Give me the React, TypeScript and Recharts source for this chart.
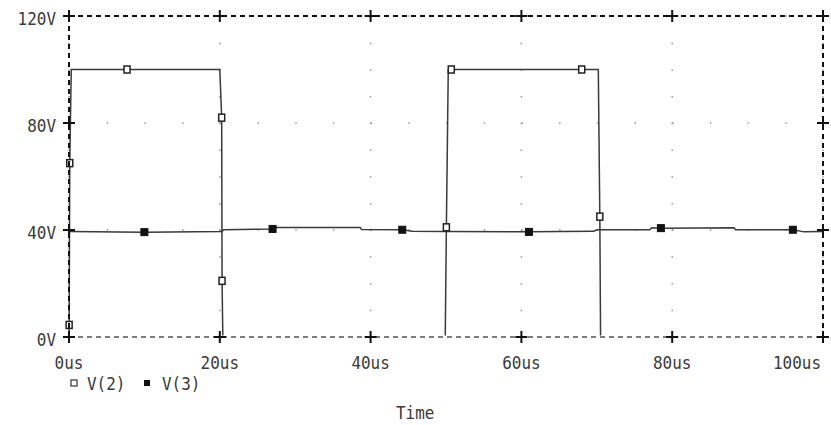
import React from 'react';
import {
  LineChart,
  Line,
  XAxis,
  YAxis,
  CartesianGrid,
  ReferenceLine,
  ReferenceDot,
} from 'recharts';

const timeTicks = [0, 20, 40, 60, 80, 100];
const voltTicks = [0, 40, 80, 120];

// V(2): pulse source
const v2Time = [0, 0.02, 0.1, 0.3, 7.7, 20.0, 20.25, 20.3, 20.4, 49.9, 50.05, 50.3, 50.7, 68.0, 70.2, 70.4, 70.5, 100];
const v2Volt = [0, 4.5, 65, 100, 100, 100, 82, 21, 0, 0, 41, 100, 100, 100, 100, 45, 0, 0];
const v2Marked = [1, 2, 4, 6, 7, 10, 12, 13, 15];

// V(3): node sitting around 40V
const v3Time = [0, 10, 20.3, 20.5, 27, 27.5, 38.6, 38.8, 44.2, 45.5, 50, 61, 69.6, 70, 77, 77.3, 78.5, 88.2, 88.4, 96, 97.5, 100];
const v3Volt = [39.4, 39.2, 39.4, 40.1, 40.4, 40.9, 40.9, 40.2, 40.1, 39.5, 39.4, 39.3, 39.5, 40.1, 40.1, 40.8, 40.7, 40.8, 40.1, 40.1, 39.3, 39.4];
const v3Marked = [1, 4, 8, 11, 16, 19];

const toRows = (ts: number[], vs: number[], marks: number[]) =>
  ts.map((t, i) => ({ t, v: vs[i], mark: marks.includes(i) }));

const v2Data = toRows(v2Time, v2Volt, v2Marked);
const v3Data = toRows(v3Time, v3Volt, v3Marked);

const FONT = 'DejaVu Sans Mono';
const CHAR_W = 9.6;

const Txt = ({ x, y, anchor = 'start', children }: any) => {
  const s = String(children);
  return (
    <text
      x={x}
      y={y}
      textAnchor={anchor}
      dominantBaseline="central"
      fontFamily={FONT}
      fontSize={18}
      fill="#3a3a3a"
      textLength={s.length * CHAR_W}
      lengthAdjust="spacingAndGlyphs"
    >
      {s}
    </text>
  );
};

// last label sits left of its tick so it stays inside the frame
const XTick = (props: any) => {
  const v = props.payload.value;
  const last = v === timeTicks[timeTicks.length - 1];
  return (
    <Txt x={last ? props.x + 2 : props.x} y={props.y + 23} anchor={last ? 'end' : 'middle'}>{`${v}us`}</Txt>
  );
};

const YTick = (props: any) => (
  <Txt x={props.x - 11} y={props.y + 2} anchor="end">{`${props.payload.value}V`}</Txt>
);

const openSquare = (props: any) => {
  const { cx, cy, payload, index } = props;
  if (!payload.mark) return <g key={`o${index}`} />;
  return <rect key={`o${index}`} x={cx - 3} y={cy - 3.5} width={6} height={7} fill="#fff" stroke="#222" strokeWidth={1.5} />;
};

const filledSquare = (props: any) => {
  const { cx, cy, payload, index } = props;
  if (!payload.mark) return <g key={`f${index}`} />;
  return <rect key={`f${index}`} x={cx - 3.5} y={cy - 3.5} width={7} height={7} fill="#111" stroke="#111" strokeWidth={1} />;
};

const Cross = (props: any) => (
  <path d={`M${props.cx - 6},${props.cy}h12M${props.cx},${props.cy - 6}v12`} stroke="#111" strokeWidth={2} fill="none" />
);

export default function App() {
  return (
    <div style={{ position: 'absolute', left: 0, top: 0, width: 831, height: 425, background: '#fff' }}>
      <LineChart width={831} height={425} margin={{ top: 16, right: 8, bottom: 0, left: 9 }}>
        <CartesianGrid horizontal={false} stroke="#999" strokeWidth={1.5} strokeDasharray="1.5 25.2" />
        <CartesianGrid vertical={false} stroke="#999" strokeWidth={1.5} strokeDasharray="1.5 36.2" />
        <XAxis
          dataKey="t"
          type="number"
          domain={[0, 100]}
          ticks={timeTicks}
          tick={XTick}
          tickLine={false}
          axisLine={false}
          tickSize={0}
          height={88}
        />
        <YAxis
          type="number"
          domain={[0, 120]}
          ticks={voltTicks}
          tick={YTick}
          tickLine={false}
          axisLine={false}
          tickSize={0}
          width={60}
        />
        <Line data={v2Data} dataKey="v" type="linear" stroke="#3a3a3a" strokeWidth={1.5} dot={openSquare} activeDot={false} isAnimationActive={false} />
        <Line data={v3Data} dataKey="v" type="linear" stroke="#3a3a3a" strokeWidth={1.5} dot={filledSquare} activeDot={false} isAnimationActive={false} />
        <ReferenceLine y={0} stroke="#fff" strokeWidth={3} zIndex={1500} />
        <ReferenceLine y={0} stroke="#555" strokeWidth={1.5} strokeDasharray="5 4" zIndex={1600} />
        <ReferenceLine y={120} stroke="#111" strokeWidth={2} strokeDasharray="5 4" zIndex={1600} />
        <ReferenceLine x={0} stroke="#111" strokeWidth={2} strokeDasharray="5 4" zIndex={1600} />
        <ReferenceLine x={100} stroke="#111" strokeWidth={2} strokeDasharray="5 4" zIndex={1600} />
        {timeTicks.map((t) => (
          <ReferenceDot key={`b${t}`} x={t} y={0} r={6} shape={Cross} zIndex={1700} />
        ))}
        {timeTicks.map((t) => (
          <ReferenceDot key={`t${t}`} x={t} y={120} r={6} shape={Cross} zIndex={1700} />
        ))}
        {voltTicks.map((v) => (
          <ReferenceDot key={`l${v}`} x={0} y={v} r={6} shape={Cross} zIndex={1700} />
        ))}
        {voltTicks.map((v) => (
          <ReferenceDot key={`r${v}`} x={100} y={v} r={6} shape={Cross} zIndex={1700} />
        ))}
      </LineChart>
      <svg width={831} height={425} style={{ position: 'absolute', left: 0, top: 0, pointerEvents: 'none' }}>
        <rect x={71} y={380} width={6} height={6} fill="#fff" stroke="#333" strokeWidth={1.2} />
        <Txt x={87} y={383}>V(2)</Txt>
        <rect x={144} y={380} width={6} height={6} fill="#111" />
        <Txt x={162} y={383}>V(3)</Txt>
        <Txt x={396} y={412}>Time</Txt>
      </svg>
    </div>
  );
}
